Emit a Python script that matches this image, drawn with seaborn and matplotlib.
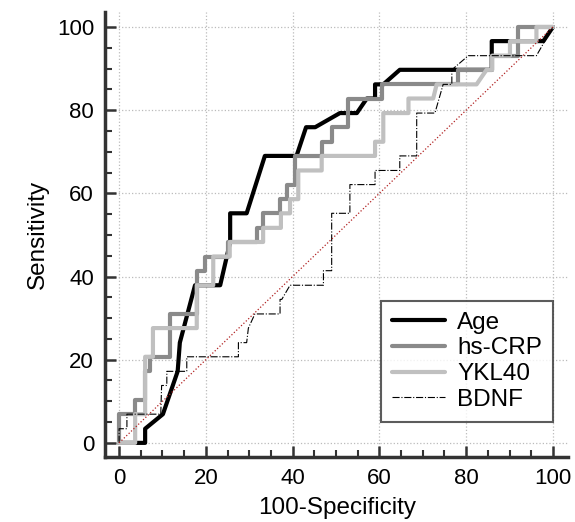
import matplotlib
matplotlib.use("Agg")
import matplotlib.pyplot as plt
from matplotlib.ticker import MultipleLocator
import seaborn as sns

# ROC curves (100-Specificity, Sensitivity)
age_x = [0, 6.0, 6.0, 10.1, 13.5, 14.0, 17.5, 23.3, 25.6, 25.6, 29.4, 33.6, 40.9, 43.1, 45.2,
         50.9, 54.8, 57.1, 59.0, 59.0, 60.9, 64.7, 85.9, 85.9, 97.8, 100]
age_y = [0, 0, 3.4, 6.9, 17.2, 24.1, 37.9, 37.9, 48.3, 55.2, 55.2, 69.0, 69.0, 75.9, 75.9,
         79.3, 79.3, 82.8, 82.8, 86.2, 86.2, 89.7, 89.7, 96.6, 96.6, 100]

crp_x = [0, 0, 3.7, 3.7, 6.0, 6.0, 7.1, 7.1, 11.8, 11.8, 17.9, 17.9, 19.8, 19.8, 25.0, 25.0,
         31.7, 31.7, 33.2, 33.2, 37.1, 37.1, 38.6, 38.6, 40.6, 40.6, 46.7, 46.7, 49.0, 49.0,
         52.8, 52.8, 60.5, 60.5, 78.2, 78.2, 85.9, 85.9, 92.0, 92.0, 100]
crp_y = [0, 6.9, 6.9, 10.3, 10.3, 17.2, 17.2, 20.7, 20.7, 31.0, 31.0, 41.4, 41.4, 44.8, 44.8, 48.3,
         48.3, 51.7, 51.7, 55.2, 55.2, 58.6, 58.6, 62.1, 62.1, 69.0, 69.0, 72.4, 72.4, 75.9,
         75.9, 82.8, 82.8, 86.2, 86.2, 89.7, 89.7, 93.1, 93.1, 100, 100]

ykl_x = [0, 3.7, 3.7, 6.0, 6.0, 7.8, 7.8, 17.9, 17.9, 21.7, 21.7, 25.5, 25.5, 33.2, 33.2, 37.3,
         37.3, 39.4, 39.4, 41.3, 41.3, 46.7, 46.7, 59.0, 59.0, 60.9, 60.9, 66.7, 66.7, 72.4,
         73.2, 82.4, 84.7, 86.0, 86.0, 90.1, 90.1, 96.2, 96.2, 100]
ykl_y = [0, 0, 6.9, 6.9, 20.7, 20.7, 27.6, 27.6, 37.9, 37.9, 44.8, 44.8, 48.3, 48.3, 51.7, 51.7,
         55.2, 55.2, 58.6, 58.6, 65.5, 65.5, 69.0, 69.0, 72.4, 72.4, 79.3, 79.3, 82.8, 82.8,
         86.2, 86.2, 89.7, 89.7, 93.1, 93.1, 96.6, 96.6, 100, 100]

bdnf_x = [0, 0, 1.8, 1.8, 9.6, 9.8, 11.0, 11.0, 15.6, 15.6, 27.5, 27.5, 29.4, 29.8, 31.3, 37.1,
          37.1, 37.5, 39.4, 47.1, 47.1, 49.0, 49.0, 53.2, 53.2, 59.0, 59.0, 64.7, 64.7, 68.6,
          68.6, 72.8, 74.7, 76.7, 76.7, 80.5, 96.2, 100]
bdnf_y = [0, 3.4, 3.4, 6.9, 6.9, 13.8, 13.8, 17.2, 17.2, 20.7, 20.7, 24.1, 24.1, 27.6, 31.0, 31.0,
          34.5, 34.5, 37.9, 37.9, 41.4, 41.4, 55.2, 55.2, 62.1, 62.1, 65.5, 65.5, 69.0, 69.0,
          79.3, 79.3, 86.2, 86.2, 89.7, 93.1, 93.1, 100]

ref_x = [0, 100]
ref_y = [0, 100]

sns.set_style("white")
plt.rcParams['font.family'] = ['Liberation Sans', 'DejaVu Sans']
plt.rcParams['text.color'] = 'black'
plt.rcParams['axes.labelcolor'] = 'black'
plt.rcParams['xtick.color'] = 'black'
plt.rcParams['ytick.color'] = 'black'

fig = plt.figure(figsize=(5.75, 5.22), dpi=100)
ax = fig.add_axes([0.183, 0.1245, 0.805, 0.8525])

sns.lineplot(x=age_x, y=age_y, sort=False, estimator=None, color='black', lw=3.0,
             ax=ax, label='Age')
sns.lineplot(x=crp_x, y=crp_y, sort=False, estimator=None, color='#8a8a8a', lw=3.0,
             ax=ax, label='hs-CRP')
sns.lineplot(x=ykl_x, y=ykl_y, sort=False, estimator=None, color='#c0c0c0', lw=3.0,
             ax=ax, label='YKL40')
sns.lineplot(x=bdnf_x, y=bdnf_y, sort=False, estimator=None, color='black', lw=0.8,
             linestyle='-.', ax=ax, label='BDNF')
sns.lineplot(x=ref_x, y=ref_y, sort=False, estimator=None, color='#b22222', lw=0.9,
             linestyle=':', ax=ax, legend=False)

ax.set_xlim(-3.2, 103.5)
ax.set_ylim(-3.4, 103.6)
ax.xaxis.set_major_locator(MultipleLocator(20))
ax.xaxis.set_minor_locator(MultipleLocator(5))
ax.yaxis.set_major_locator(MultipleLocator(20))
ax.yaxis.set_minor_locator(MultipleLocator(5))
ax.grid(True, which='major', color='#bbbbbb', linestyle=':', lw=0.9)
ax.set_axisbelow(True)

for side in ['top', 'right']:
    ax.spines[side].set_visible(False)
for side in ['left', 'bottom']:
    ax.spines[side].set_linewidth(2.5)
    ax.spines[side].set_color('#333333')

ax.tick_params(which='major', direction='in', length=8, width=1.8, color='#333333',
               labelcolor='black', labelsize=16, pad=8, left=True, bottom=True)
ax.tick_params(which='minor', direction='in', length=5, width=1.5, color='#333333',
               left=True, bottom=True)

ax.set_xlabel('100-Specificity', fontsize=17.5, labelpad=6, color='black')
ax.set_ylabel('Sensitivity', fontsize=17.5, labelpad=6, color='black')

leg = ax.legend(loc='lower right', bbox_to_anchor=(0.994, 0.052), fontsize=17.5,
                frameon=True, fancybox=False, handlelength=2.2, borderpad=0.45,
                labelspacing=0.15, handletextpad=0.5)
leg.get_frame().set_edgecolor('#333333')
leg.get_frame().set_linewidth(1.5)

fig.savefig('out.png', dpi=100)
